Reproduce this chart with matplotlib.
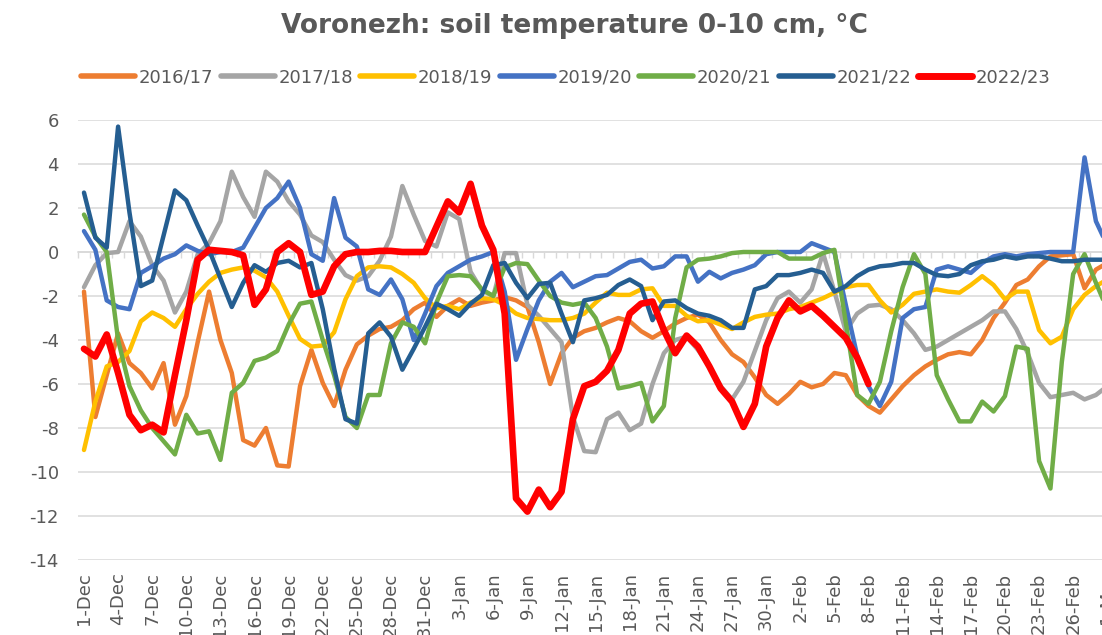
import matplotlib
matplotlib.use("Agg")
import matplotlib.pyplot as plt
from matplotlib.lines import Line2D

# ---------------- data ----------------
TITLE = "Voronezh: soil temperature 0-10 cm, °C"
MONTHS = [("Dec", 31), ("Jan", 31), ("Feb", 28), ("Mar", 1)]
CATEGORIES = [f"{d}-{m}" for m, n in MONTHS for d in range(1, n + 1)]

SEASONS = ["2016/17", "2017/18", "2018/19", "2019/20", "2020/21", "2021/22", "2022/23"]
COLORS = ["#ED7D31", "#A5A5A5", "#FFC000", "#4472C4", "#70AD47", "#255E91", "#FF0000"]

s2016 = [-1.8, -7.5, -5.6, -3.7, -5.05, -5.5, -6.2, -5.05, -7.85, -6.55,
         -4.1, -1.8, -4.0, -5.5, -8.55, -8.8, -8.0, -9.7, -9.75, -6.1,
         -4.45, -5.95, -7.0, -5.35, -4.2, -3.8, -3.5, -3.4, -3.1, -2.6,
         -2.3, -2.95, -2.45, -2.15, -2.45, -2.3, -2.2, -2.05, -2.2, -2.5,
         -4.1, -6.0, -4.6, -3.9, -3.6, -3.45, -3.2, -3.0, -3.15, -3.6,
         -3.9, -3.6, -3.25, -3.0, -2.85, -3.2, -4.0, -4.65, -5.0, -5.7,
         -6.5, -6.9, -6.45, -5.9, -6.15, -6.0, -5.5, -5.6, -6.5, -7.0,
         -7.3, -6.7, -6.1, -5.6, -5.2, -4.9, -4.65, -4.55, -4.65, -4.0,
         -3.0, -2.3, -1.5, -1.25, -0.65, -0.2, -0.15, -0.1, -1.65, -0.8,
         -0.5]

s2017 = [-1.6, -0.6, -0.05, 0.0, 1.4, 0.7, -0.6, -1.3, -2.75, -1.8,
         -0.1, 0.4, 1.4, 3.65, 2.5, 1.6, 3.65, 3.2, 2.3, 1.7,
         0.75, 0.45, -0.35, -1.05, -1.3, -1.1, -0.4, 0.7, 3.0, 1.7,
         0.5, 0.25, 1.8, 1.5, -0.9, -1.75, -2.0, -0.05, -0.05, -2.4,
         -2.9, -3.5, -4.1, -7.5, -9.05, -9.1, -7.6, -7.3, -8.1, -7.8,
         -6.0, -4.6, -4.0, -3.85, -4.45, -5.2, -6.1, -6.7, -5.9, -4.5,
         -3.1, -2.1, -1.8, -2.3, -1.7, -0.05, -1.8, -3.6, -2.8, -2.45,
         -2.4, -2.6, -3.1, -3.7, -4.45, -4.3, -4.0, -3.7, -3.4, -3.1,
         -2.7, -2.7, -3.5, -4.6, -5.95, -6.6, -6.5, -6.4, -6.7, -6.5,
         -6.1]

s2018 = [-9.0, -6.8, -5.2, -5.0, -4.5, -3.15, -2.75, -3.0, -3.4, -2.6,
         -1.9, -1.35, -0.95, -0.8, -0.7, -0.85, -1.15, -1.8, -2.9, -3.95,
         -4.3, -4.25, -3.65, -2.15, -1.1, -0.7, -0.65, -0.7, -1.0, -1.4,
         -2.1, -2.55, -2.45, -2.6, -2.3, -2.1, -2.15, -2.4, -2.8, -3.0,
         -3.05, -3.1, -3.1, -3.0, -2.8, -2.3, -1.85, -1.95, -1.95, -1.7,
         -1.65, -2.45, -2.45, -2.9, -3.15, -3.1, -3.3, -3.5, -3.2, -2.95,
         -2.85, -2.8, -2.6, -2.5, -2.3, -2.1, -1.85, -1.6, -1.5, -1.5,
         -2.2, -2.75, -2.4, -1.9, -1.8, -1.7, -1.8, -1.85, -1.5, -1.1,
         -1.5, -2.15, -1.8, -1.8, -3.55, -4.15, -3.85, -2.6, -1.95, -1.55,
         -1.25]

s2019 = [0.95, 0.1, -2.2, -2.5, -2.6, -0.95, -0.65, -0.3, -0.1, 0.3,
         0.05, -0.1, 0.0, 0.0, 0.2, 1.1, 2.0, 2.45, 3.2, 2.0,
         -0.1, -0.4, 2.45, 0.65, 0.25, -1.7, -1.95, -1.25, -2.15, -4.0,
         -2.8, -1.55, -0.95, -0.65, -0.35, -0.2, 0.0, -1.8, -4.9, -3.5,
         -2.2, -1.35, -0.95, -1.6, -1.35, -1.1, -1.05, -0.75, -0.45, -0.35,
         -0.75, -0.65, -0.2, -0.2, -1.35, -0.9, -1.2, -0.95, -0.8, -0.6,
         -0.1, 0.0, 0.0, 0.0, 0.4, 0.2, 0.0, -2.4, -4.7, -6.1,
         -7.0, -5.9, -3.0, -2.6, -2.5, -0.8, -0.65, -0.8, -0.95, -0.5,
         -0.2, -0.1, -0.2, -0.1, -0.05, 0.0, 0.0, 0.0, 4.3, 1.4,
         0.3]

s2020 = [1.7, 0.7, 0.0, -4.0, -6.1, -7.2, -8.0, -8.6, -9.2, -7.4,
         -8.25, -8.15, -9.45, -6.4, -5.95, -4.95, -4.8, -4.5, -3.3, -2.35,
         -2.25, -4.0, -5.6, -7.5, -8.0, -6.5, -6.5, -4.15, -3.2, -3.4,
         -4.15, -2.3, -1.1, -1.05, -1.1, -1.7, -2.0, -0.7, -0.5, -0.55,
         -1.3, -2.0, -2.3, -2.4, -2.3, -3.0, -4.3, -6.2, -6.1, -5.95,
         -7.7, -7.0, -3.0, -0.7, -0.35, -0.3, -0.2, -0.05, 0.0, 0.0,
         0.0, 0.0, -0.3, -0.3, -0.3, -0.05, 0.1, -3.2, -6.5, -6.9,
         -5.9, -3.6, -1.6, -0.1, -1.0, -5.6, -6.7, -7.7, -7.7, -6.8,
         -7.25, -6.55, -4.3, -4.4, -9.5, -10.75, -5.0, -1.0, -0.1, -1.4,
         -2.6]

s2021 = [2.7, 0.65, 0.2, 5.7, 1.8, -1.55, -1.3, 0.75, 2.8, 2.35,
         1.2, 0.1, -1.2, -2.5, -1.4, -0.6, -0.9, -0.5, -0.4, -0.7,
         -0.5, -2.6, -5.3, -7.6, -7.8, -3.7, -3.2, -3.85, -5.35, -4.4,
         -3.4, -2.35, -2.6, -2.9, -2.35, -1.95, -0.6, -0.5, -1.4, -2.1,
         -1.45, -1.4, -2.8, -4.1, -2.2, -2.1, -1.95, -1.5, -1.25, -1.55,
         -3.1, -2.25, -2.2, -2.55, -2.8, -2.9, -3.1, -3.45, -3.45, -1.7,
         -1.55, -1.05, -1.05, -0.95, -0.8, -0.95, -1.8, -1.55, -1.1, -0.8,
         -0.65, -0.6, -0.5, -0.5, -0.8, -1.05, -1.1, -1.0, -0.6, -0.42,
         -0.35, -0.2, -0.3, -0.2, -0.2, -0.3, -0.42, -0.42, -0.35, -0.35,
         -0.35]

s2022 = [-4.4, -4.75, -3.75, -5.5, -7.4, -8.1, -7.85, -8.2, -5.6, -3.1,
         -0.35, 0.1, 0.05, 0.0, -0.15, -2.4, -1.7, 0.0, 0.4, 0.0,
         -1.95, -1.8, -0.65, -0.1, 0.0, 0.0, 0.05, 0.05, 0.0, 0.0,
         0.0, 1.15, 2.3, 1.8, 3.1, 1.2, 0.1, -2.8, -11.2, -11.8,
         -10.8, -11.6, -10.9, -7.6, -6.1, -5.9, -5.4, -4.45, -2.8, -2.35,
         -2.25, -3.55, -4.6, -3.8, -4.3, -5.2, -6.2, -6.8, -7.95, -6.9,
         -4.3, -3.0, -2.2, -2.7, -2.45, -2.9, -3.4, -3.9, -4.8, -6.0]

SERIES = [s2016, s2017, s2018, s2019, s2020, s2021, s2022]
LINE_WIDTHS = [3.2, 3.2, 3.2, 3.2, 3.2, 3.2, 4.8]

Y_TICKS = list(range(-14, 7, 2))
TEXT_COLOR = "#595959"
GRID_COLOR = "#D9D9D9"

# ---------------- figure ----------------
W, H = 1102, 635
fig = plt.figure(figsize=(W / 100, H / 100), dpi=100)
fig.patch.set_facecolor("white")

px_per_cat = 11.37
left_px, top_px, bottom_px = 78.3, 120, 560
n_cat = len(CATEGORIES)
ax = fig.add_axes([left_px / W, (H - bottom_px) / H,
                   n_cat * px_per_cat / W, (bottom_px - top_px) / H])
ax.set_xlim(-0.5, n_cat - 0.5)
ax.set_ylim(-14, 6)

for sp in ax.spines.values():
    sp.set_visible(False)

ax.set_yticks(Y_TICKS)
ax.set_yticklabels([str(v) for v in Y_TICKS])
ax.yaxis.grid(True, color=GRID_COLOR, linewidth=1.1)
ax.set_axisbelow(True)
ax.tick_params(axis="y", length=0, pad=14, labelsize=13, labelcolor=TEXT_COLOR)

xt = list(range(0, n_cat, 3))
ax.set_xticks(xt)
ax.set_xticklabels([CATEGORIES[i] for i in xt], rotation=90)
ax.tick_params(axis="x", length=0, pad=9, labelsize=13, labelcolor=TEXT_COLOR)

# horizontal category axis crossing at 0, with small tick marks
zero_frac = (0 - (-14)) / 20
sec = ax.secondary_xaxis(zero_frac)
sec.set_xticks([i + 0.5 for i in range(-1, n_cat)])
sec.tick_params(axis="x", which="both", direction="in", length=4, width=1.0,
                color=GRID_COLOR, labeltop=False, labelbottom=False)
for sp in sec.spines.values():
    sp.set_color(GRID_COLOR)
    sp.set_linewidth(1.1)

for k, (vals, col, lw) in enumerate(zip(SERIES, COLORS, LINE_WIDTHS)):
    ax.plot(range(len(vals)), vals, color=col, linewidth=lw,
            solid_joinstyle="round", solid_capstyle="round", zorder=3 + k)

# title
fig.text(574 / W, 1 - 26 / H, TITLE, ha="center", va="center",
         fontsize=19, fontweight="bold", color=TEXT_COLOR)

# legend
handles = [Line2D([], [], color=c, linewidth=(4.0 if i < 6 else 5.0),
                  solid_capstyle="round") for i, c in enumerate(COLORS)]
fig.legend(handles, SEASONS, loc="center", bbox_to_anchor=(566 / W, 1 - 77 / H),
           ncol=7, frameon=False, fontsize=13, handlelength=3.0,
           handletextpad=0.2, columnspacing=0.4, labelcolor=TEXT_COLOR,
           borderaxespad=0, borderpad=0)

fig.savefig("out.png", dpi=100, facecolor="white")
